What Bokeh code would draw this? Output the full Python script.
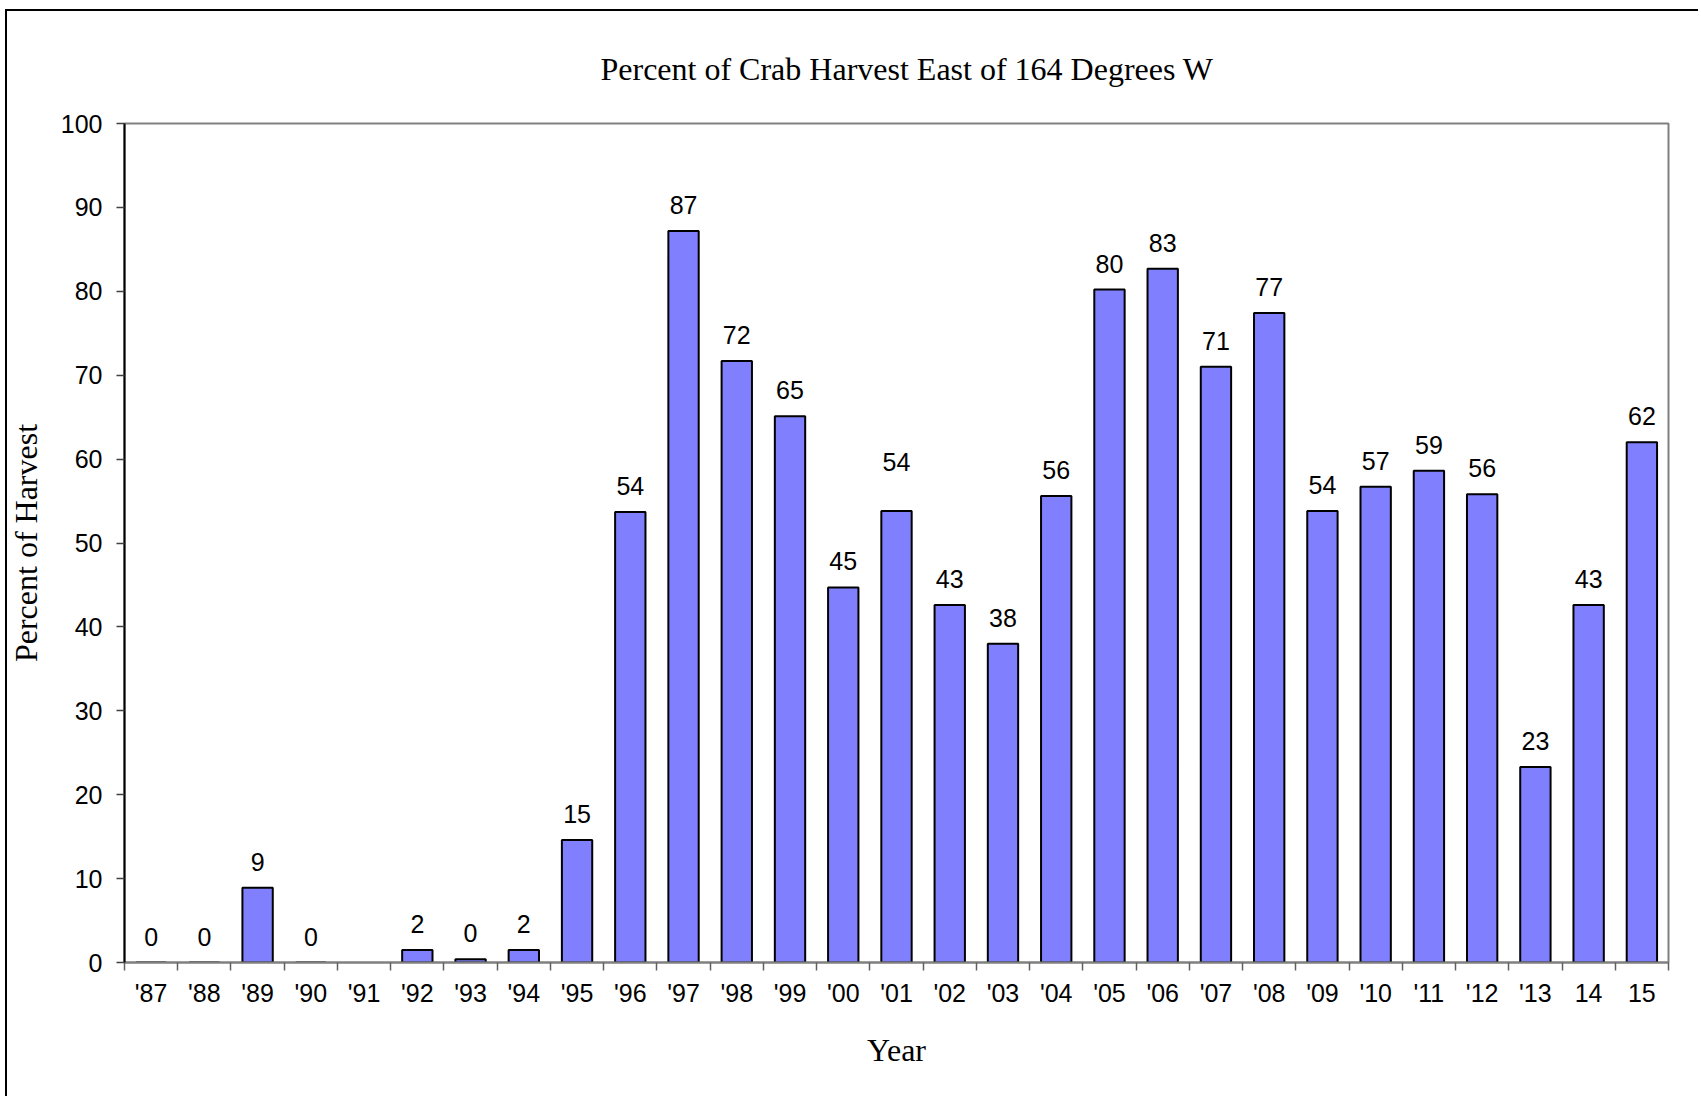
from bokeh.plotting import figure
from bokeh.models import ColumnDataSource, Range1d, FixedTicker
from bokeh.embed import file_html
from bokeh.resources import INLINE
from bokeh.core.properties import value

# ---- data ----
years = ["'87", "'88", "'89", "'90", "'91", "'92", "'93", "'94", "'95", "'96",
         "'97", "'98", "'99", "'00", "'01", "'02", "'03", "'04", "'05", "'06",
         "'07", "'08", "'09", "'10", "'11", "'12", "'13", "14", "15"]
percent = [0.0, 0.0, 8.9, 0.0, None, 1.5, 0.4, 1.5, 14.6, 53.7,
           87.2, 71.7, 65.1, 44.7, 53.8, 42.6, 38.0, 55.6, 80.2, 82.7,
           71.0, 77.4, 53.8, 56.7, 58.6, 55.8, 23.3, 42.6, 62.0]
# extra upward shift (px) of a few value labels, as placed in the original
label_lift = {"'01": 23}

title_text = "Percent of Crab Harvest East of 164 Degrees W"
x_title = "Year"
y_title = "Percent of Harvest"
y_ticks = [0, 10, 20, 30, 40, 50, 60, 70, 80, 90, 100]

# ---- sources ----
n = len(years)
idx = list(range(n))
bar_src = ColumnDataSource(dict(
    x=idx,
    top=[float("nan") if v is None else v for v in percent],
))
lab_x, lab_y, lab_t, lab_off = [], [], [], []
for i, (yr, v) in enumerate(zip(years, percent)):
    if v is None:
        continue
    lab_x.append(i)
    lab_y.append(v)
    lab_t.append(str(int(round(v))))
    lab_off.append(-26 - label_lift.get(yr, 0))
lab_src = ColumnDataSource(dict(x=lab_x, y=lab_y, text=lab_t, off=lab_off))

SANS = "Liberation Sans"
SERIF = "Liberation Serif"

p = figure(width=1698, height=1096, output_backend="svg", toolbar_location=None,
           x_range=Range1d(-0.5, n - 0.5), y_range=Range1d(0, 100),
           min_border_left=124, min_border_right=30, min_border_top=123,
           min_border_bottom=134)
p.border_fill_color = None
p.background_fill_color = "white"
p.styles = {
    "background-image": "linear-gradient(#000,#000), linear-gradient(#000,#000)",
    "background-size": "2px 100%, 100% 2px",
    "background-position": "5px 9px, 5px 9px",
    "background-repeat": "no-repeat",
}

p.outline_line_color = "#808080"
p.outline_line_width = 2
p.xgrid.visible = False
p.ygrid.visible = False

p.vbar(x="x", top="top", bottom=0, width=0.57, source=bar_src,
       fill_color="#8080FF", line_color="black", line_width=2)

p.text(x="x", y="y", text="text", source=lab_src, y_offset="off",
       text_align="center", text_baseline="alphabetic",
       text_font=value(SANS), text_font_size="25px", text_color="black")

# title
p.title.text = title_text
p.title.align = "left"
p.title.offset = 476
p.title.text_font = SERIF
p.title.text_font_size = "32px"
p.title.text_font_style = "normal"
p.title.text_color = "black"
p.title.standoff = 74

# x axis
xa = p.xaxis[0]
xa.ticker = FixedTicker(ticks=idx, minor_ticks=[i - 0.5 for i in range(n + 1)])
xa.major_label_overrides = {i: y for i, y in zip(idx, years)}
xa.major_tick_in = 0
xa.major_tick_out = 0
xa.minor_tick_in = 0
xa.minor_tick_out = 8
xa.minor_tick_line_color = "#606060"
xa.minor_tick_line_width = 1.5
xa.axis_line_color = "#808080"
xa.axis_line_width = 2
xa.major_label_text_font = SANS
xa.major_label_text_font_size = "25px"
xa.major_label_text_color = "black"
xa.major_label_standoff = 8
xa.axis_label = x_title
xa.axis_label_text_font = SERIF
xa.axis_label_text_font_size = "32px"
xa.axis_label_text_font_style = "normal"
xa.axis_label_text_color = "black"
xa.axis_label_standoff = 22

# y axis
ya = p.yaxis[0]
ya.ticker = FixedTicker(ticks=y_ticks, minor_ticks=[])
ya.major_tick_in = 0
ya.major_tick_out = 8
ya.major_tick_line_color = "#404040"
ya.major_tick_line_width = 1.5
ya.axis_line_color = "black"
ya.axis_line_width = 2
ya.major_label_text_font = SANS
ya.major_label_text_font_size = "25px"
ya.major_label_text_color = "black"
ya.major_label_standoff = 14
ya.axis_label = y_title
ya.axis_label_text_font = SERIF
ya.axis_label_text_font_size = "32px"
ya.axis_label_text_font_style = "normal"
ya.axis_label_text_color = "black"
ya.axis_label_standoff = 14

open("out.html", "w").write(file_html(p, INLINE))
